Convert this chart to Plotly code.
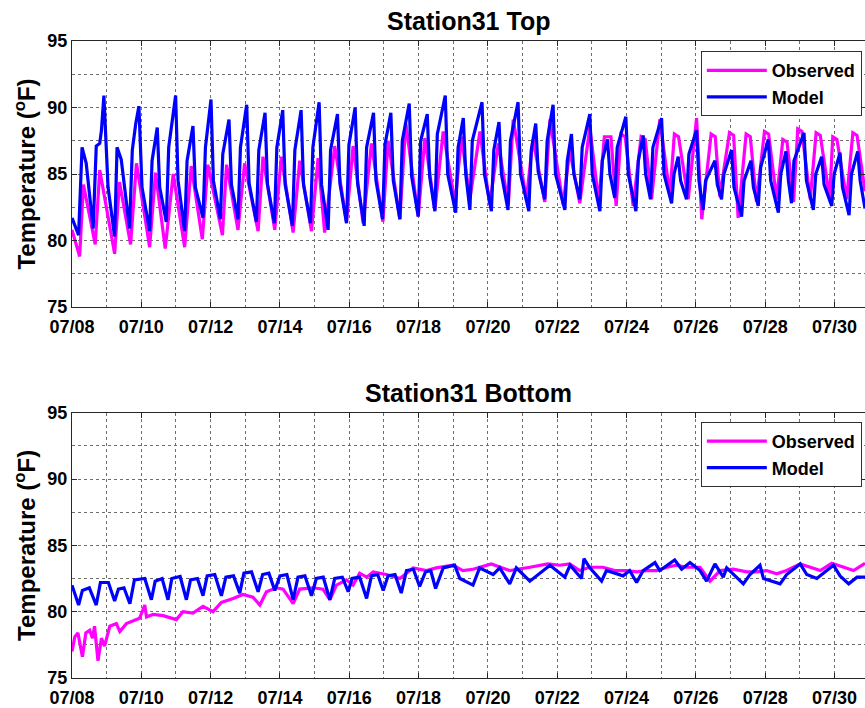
import pandas as pd
import plotly.graph_objects as go
from plotly.subplots import make_subplots

# ---------------- data (days since 07/08 00:00, temperature degF) ----------------
top_model_days = [0.00, 0.19, 0.29, 0.41, 0.61, 0.70, 0.80, 0.85, 0.92, 1.04, 1.23, 1.30, 1.42, 1.66, 1.74, 1.84,
                  1.93, 2.02, 2.24, 2.31, 2.46, 2.53, 2.72, 2.79, 2.99, 3.06, 3.25, 3.32, 3.49, 3.56, 3.78, 3.85,
                  4.01, 4.08, 4.28, 4.35, 4.53, 4.60, 4.79, 4.86, 5.04, 5.11, 5.32, 5.39, 5.57, 5.64, 5.84, 5.91,
                  6.08, 6.15, 6.36, 6.43, 6.61, 6.68, 6.88, 6.95, 7.13, 7.20, 7.39, 7.46, 7.66, 7.73, 7.92, 7.99,
                  8.17, 8.24, 8.43, 8.50, 8.70, 8.77, 8.96, 9.03, 9.20, 9.27, 9.46, 9.53, 9.73, 9.80, 9.99, 10.06,
                  10.25, 10.32, 10.47, 10.54, 10.77, 10.84, 11.07, 11.14, 11.29, 11.36, 11.48, 11.55, 11.83, 11.90,
                  12.10, 12.17, 12.32, 12.39, 12.58, 12.65, 12.87, 12.94, 13.18, 13.25, 13.38, 13.45, 13.64, 13.71,
                  13.88, 13.95, 14.22, 14.29, 14.41, 14.48, 14.65, 14.72, 14.94, 15.01, 15.23, 15.30, 15.45, 15.52,
                  15.66, 15.73, 15.98, 16.05, 16.27, 16.34, 16.48, 16.55, 16.69, 16.76, 17.01, 17.08, 17.30, 17.37,
                  17.49, 17.56, 17.73, 17.80, 18.02, 18.09, 18.21, 18.28, 18.55, 18.62, 18.74, 18.81, 19.03, 19.10,
                  19.32, 19.39, 19.59, 19.66, 19.80, 19.87, 20.09, 20.16, 20.38, 20.45, 20.60, 20.67, 20.76, 20.83,
                  21.12, 21.19, 21.39, 21.46, 21.63, 21.70, 21.92, 21.99, 22.16, 22.23, 22.42, 22.49, 22.67, 22.74,
                  22.88]
top_model_temp = [81.7, 80.4, 87.0, 85.8, 80.9, 87.1, 87.3, 88.3, 90.9, 84.0, 80.3, 87.0, 86.1, 80.9, 86.8, 88.8,
                  90.1, 84.0, 80.7, 86.0, 88.5, 84.0, 81.4, 87.0, 90.9, 84.5, 80.7, 86.0, 88.6, 84.0, 81.7, 87.0,
                  90.6, 84.5, 81.6, 86.5, 89.1, 84.2, 81.6, 87.0, 90.2, 84.3, 81.4, 86.8, 89.6, 84.2, 81.3, 87.0,
                  89.8, 84.2, 81.1, 86.8, 89.8, 84.2, 81.3, 87.0, 90.4, 84.2, 80.8, 86.8, 89.5, 84.3, 81.3, 87.2,
                  90.0, 84.3, 81.1, 87.0, 89.6, 84.5, 81.6, 87.2, 89.6, 84.5, 81.6, 87.5, 90.3, 84.8, 81.8, 87.5,
                  89.5, 84.8, 82.2, 88.0, 90.9, 85.0, 82.1, 87.0, 89.2, 85.0, 82.3, 87.5, 90.4, 85.0,
                  82.2, 86.8, 88.9, 85.0, 82.3, 87.5, 90.4, 85.0, 82.2, 86.8, 88.8, 85.2, 83.1, 87.5,
                  90.2, 85.0, 82.3, 86.0, 88.0, 85.0, 83.1, 87.0, 89.5, 85.0, 82.2, 86.0, 87.6, 85.0,
                  83.2, 87.0, 89.3, 85.0, 82.2, 86.0, 87.9, 85.0, 83.1, 87.0, 89.2, 85.0, 82.8, 85.0,
                  86.3, 84.5, 83.1, 86.5, 88.3, 84.5, 82.3, 84.5, 86.0, 84.2, 83.1, 85.0, 86.8, 84.0,
                  81.8, 84.5, 86.0, 84.0, 82.6, 85.5, 87.6, 84.5, 82.1, 85.0, 86.7, 84.5, 82.8, 86.0,
                  88.1, 84.5, 82.3, 85.0, 86.3, 84.2, 82.6, 85.0, 86.6, 84.0, 81.9, 85.0, 86.7, 84.5,
                  82.4]

top_obs_days = [0.00, 0.22, 0.33, 0.67, 0.80, 1.23, 1.37, 1.69, 1.86, 2.24, 2.41, 2.69, 2.92, 3.25, 3.44, 3.76,
                3.92, 4.34, 4.46, 4.79, 4.98, 5.37, 5.51, 5.85, 6.04, 6.38, 6.57, 6.91, 7.10, 7.29, 7.58, 7.92,
                8.11, 8.40, 8.64, 8.97, 9.12, 9.46, 9.63, 9.99, 10.18, 10.47, 10.71, 11.05, 11.24, 11.48, 11.77,
                12.05, 12.30, 12.59, 12.73, 13.11, 13.30, 13.64, 13.79, 14.17, 14.36, 14.65, 14.94, 15.20, 15.36,
                15.55, 15.70, 15.84, 15.96, 16.19, 16.42, 16.54, 16.72, 16.96, 17.25, 17.38, 17.50, 17.78, 18.02,
                18.17, 18.44, 18.56, 18.69, 18.97, 19.09, 19.22, 19.45, 19.57, 19.75, 19.98, 20.10, 20.33, 20.51,
                20.63, 20.82, 20.94, 21.06, 21.30, 21.47, 21.59, 21.86, 21.95, 22.07, 22.35, 22.53, 22.65, 22.88]
top_obs_temp = [80.8, 78.8, 84.2, 79.7, 85.3, 79.0, 84.4, 79.7, 85.8, 79.5, 85.1, 79.4, 85.0, 79.5, 85.6, 80.1,
                85.7, 80.4, 85.7, 80.8, 85.8, 80.7, 86.3, 80.8, 86.3, 80.6, 86.0, 80.7, 86.2, 80.6, 87.1, 81.4,
                87.1, 81.3, 87.3, 81.4, 87.5, 81.6, 88.8, 81.8, 87.7, 82.3, 88.2, 82.8, 87.8, 83.1, 88.2,
                82.7, 87.3, 82.7, 89.1, 83.1, 87.6, 82.9, 89.1, 82.7, 86.8, 82.8, 88.5, 82.9, 87.8,
                87.8, 82.6, 88.0, 87.8, 82.6, 87.8, 87.6, 83.1, 89.1, 83.4, 88.0, 87.8, 83.1, 89.2,
                81.6, 88.0, 87.8, 83.3, 88.1, 87.9, 81.7, 88.0, 87.8, 82.9, 88.2, 88.0, 83.1, 87.6,
                87.4, 82.9, 88.4, 88.2, 83.1, 88.1, 87.9, 83.2, 87.8, 87.6, 83.1, 88.1, 87.9, 83.7]

bot_model_days = [0.00, 0.19, 0.30, 0.50, 0.70, 0.82, 1.05, 1.23, 1.34, 1.50, 1.67, 1.80, 2.10, 2.29, 2.40, 2.60,
                  2.77, 2.88, 3.12, 3.30, 3.42, 3.62, 3.78, 3.90, 4.12, 4.31, 4.44, 4.66, 4.84, 4.96, 5.18, 5.37,
                  5.50, 5.68, 5.85, 6.00, 6.20, 6.38, 6.52, 6.72, 6.91, 7.05, 7.25, 7.44, 7.58, 7.80, 7.97, 8.08,
                  8.30, 8.50, 8.64, 8.82, 8.98, 9.12, 9.32, 9.50, 9.65, 9.85, 10.03, 10.20, 10.35, 10.49,
                  10.71, 11.04, 11.19, 11.57, 11.76, 12.15, 12.34, 12.63, 12.82, 13.21, 13.79, 14.22, 14.37, 14.70,
                  14.77, 14.94, 15.28, 15.42, 15.90, 16.09, 16.29, 16.48, 16.82, 16.96, 17.39, 17.59, 17.83, 18.12,
                  18.31, 18.55, 18.79, 18.89, 19.37, 19.56, 19.85, 19.95, 20.43, 20.62, 21.01, 21.20, 21.49, 21.97,
                  22.16, 22.41, 22.65, 22.88]
bot_model_temp = [82.0, 80.5, 81.6, 81.8, 80.5, 82.2, 82.2, 80.8, 81.7, 81.8, 80.6, 82.4, 82.5, 80.9, 82.3, 82.5,
                  80.9, 82.5, 82.65, 80.9, 82.4, 82.5, 81.2, 82.7, 82.8, 81.2, 82.6, 82.7, 81.4, 82.9, 83.0, 81.5,
                  82.8, 82.9, 81.6, 82.7, 82.8, 80.9, 82.6, 82.7, 81.2, 82.5, 82.6, 80.9, 82.5, 82.6, 81.5, 82.5,
                  82.6, 81.0, 82.7, 82.8, 81.6, 82.7, 82.8, 81.4, 83.1, 83.2, 81.9, 83.0, 83.1, 81.75,
                  83.3, 83.5, 82.5, 82.0, 83.3, 82.8, 83.3, 82.1, 83.3, 82.3, 83.5, 82.6, 83.5, 82.5,
                  84.0, 83.3, 82.3, 83.1, 82.7, 83.1, 82.2, 83.1, 83.7, 83.1, 83.9, 83.2, 83.7, 83.1,
                  82.3, 83.6, 82.6, 83.3, 82.1, 82.8, 83.5, 82.5, 82.1, 82.8, 83.6, 82.8, 82.5, 83.5,
                  82.7, 82.1, 82.6, 82.6]

bot_obs_days = [0.00, 0.08, 0.17, 0.30, 0.40, 0.51, 0.59, 0.65, 0.75, 0.85, 0.94, 1.09, 1.28, 1.38, 1.57, 1.76, 1.95,
                2.10, 2.15, 2.34, 2.63, 3.01, 3.20, 3.49, 3.78, 4.07, 4.31, 4.65, 4.93, 5.22, 5.42, 5.61, 5.90,
                6.09, 6.38, 6.57, 6.96, 7.24, 7.44, 7.63, 7.92, 8.11, 8.30, 8.50, 8.69, 9.07, 9.46, 9.84, 10.23,
                10.51, 10.80, 10.99, 11.28, 11.57, 12.10, 12.63, 13.21, 13.73, 14.07, 14.36, 14.65, 14.94, 15.32,
                15.66, 16.00, 16.29, 16.58, 16.87, 17.16, 17.44, 17.73, 18.12, 18.41, 18.70, 19.08, 19.47, 19.75,
                20.04, 20.33, 20.62, 21.01, 21.30, 21.59, 21.92, 22.26, 22.55, 22.88]
bot_obs_temp = [77.0, 78.1, 78.4, 76.6, 78.4, 78.6, 78.0, 78.9, 76.3, 78.0, 77.4, 78.9, 79.1, 78.5, 79.1, 79.3, 79.5,
                80.5, 79.6, 79.8, 79.7, 79.4, 80.0, 79.9, 80.4, 80.0, 80.7, 81.0, 81.3, 81.1, 80.5, 81.5, 81.8,
                81.7, 80.6, 81.7, 81.8, 81.7, 80.9, 82.0, 82.4, 82.0, 82.9, 82.6, 83.0, 82.8, 82.5, 83.3, 83.1,
                83.3, 83.4, 83.5, 83.1, 83.2, 83.6, 83.1, 83.35, 83.6, 83.5, 83.6, 83.1, 83.35, 83.35,
                83.1, 83.1, 83.0, 83.1, 83.1, 83.35, 83.5, 83.35, 83.35, 82.3, 83.1, 83.2, 83.0, 83.0,
                83.1, 82.85, 83.1, 83.6, 83.35, 83.1, 83.65, 83.35, 83.1, 83.65]

titles = ["Station31 Top", "Station31 Bottom"]
series_names = ["Observed", "Model"]
start_date = "2014-07-08"
end_day = 22.88

# ---------------- figure ----------------
base = pd.Timestamp(start_date)


def to_dates(days):
    return base + pd.to_timedelta(days, unit="D")


MAG = "#FF00FF"
BLU = "#0000FF"
FONT = "Liberation Sans"
LW = 3.2

fig = make_subplots(rows=2, cols=1, vertical_spacing=0.166)

panels = [
    (top_obs_days, top_obs_temp, top_model_days, top_model_temp, "legend"),
    (bot_obs_days, bot_obs_temp, bot_model_days, bot_model_temp, "legend2"),
]
for i, (od, ot, md, mt, lg) in enumerate(panels, start=1):
    fig.add_trace(go.Scatter(x=to_dates(od), y=ot, mode="lines", name=series_names[0],
                             line=dict(color=MAG, width=LW), legend=lg), row=i, col=1)
    fig.add_trace(go.Scatter(x=to_dates(md), y=mt, mode="lines", name=series_names[1],
                             line=dict(color=BLU, width=LW), legend=lg), row=i, col=1)

top_dom = [0.5824, 1.0]
bot_dom = [0.0, 0.4165]
xr = [base, base + pd.to_timedelta(end_day, unit="D")]

GRID = "#6e6e6e"
axis_common = dict(showline=True, linecolor="#262626", linewidth=1, mirror="ticks",
                   ticks="inside", ticklen=5, tickcolor="#262626",
                   showgrid=True, gridcolor=GRID, griddash="dot", gridwidth=1,
                   zeroline=False,
                   tickfont=dict(family=FONT, size=18, color="black", weight="bold"))

for ax in ("xaxis", "xaxis2"):
    fig.layout[ax].update(range=xr, tickformat="%m/%d", dtick=2 * 86400000, tick0=base,
                          ticklabelstandoff=3,
                          minor=dict(dtick=86400000, tick0=base, showgrid=True, gridcolor=GRID,
                                     griddash="dot", gridwidth=1, ticks=""),
                          **axis_common)
for ax, dom in (("yaxis", top_dom), ("yaxis2", bot_dom)):
    fig.layout[ax].update(domain=dom, range=[75, 95], dtick=5, tick0=75,
                          minor=dict(dtick=2.5, showgrid=True, gridcolor=GRID,
                                     griddash="dot", gridwidth=1, ticks=""),
                          title=dict(text="Temperature (<sup>o</sup>F)", standoff=4,
                                     font=dict(family=FONT, size=24, color="black", weight="bold")),
                          **axis_common)

for txt, dom in zip(titles, (top_dom, bot_dom)):
    fig.add_annotation(text=txt, xref="paper", yref="paper", x=0.5, y=dom[1],
                       yanchor="bottom", xanchor="center", yshift=4, showarrow=False,
                       font=dict(family=FONT, size=25, color="black", weight="bold"))

leg_common = dict(xanchor="right", yanchor="top", bgcolor="white", bordercolor="#303030", borderwidth=1,
                  font=dict(family=FONT, size=18, color="black", weight="bold"),
                  tracegroupgap=0, itemwidth=60)
fig.update_layout(
    width=865, height=708,
    margin=dict(l=72, r=0, t=41, b=30),
    paper_bgcolor="white", plot_bgcolor="white",
    showlegend=True,
    legend=dict(x=0.996, y=0.984, **leg_common),
    legend2=dict(x=0.996, y=0.402, **leg_common),
)

fig.write_html("out.html")
